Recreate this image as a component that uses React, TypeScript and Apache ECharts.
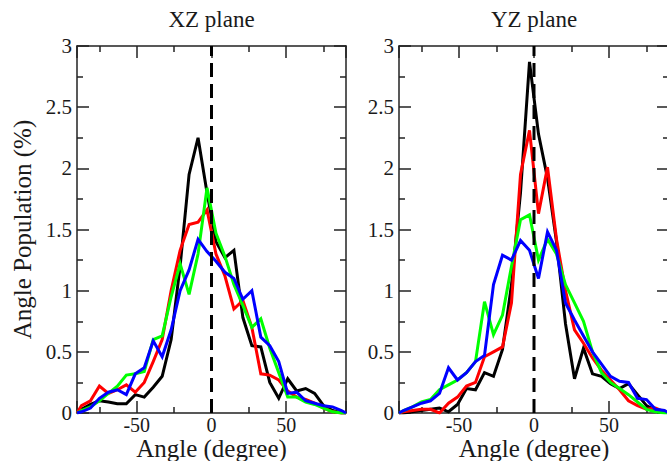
import React, { useEffect, useRef } from "react";
import * as echarts from "echarts";

// Bin centres (degrees); the curves start and end on the frame at ±90.
const ANGLES = [
  -90, -87, -81, -75, -69, -63, -57, -51, -45, -39, -33, -27, -21, -15, -9, -3,
  3, 9, 15, 21, 27, 33, 39, 45, 51, 57, 63, 69, 75, 81, 87, 90,
];

// XZ plane
const XZ_BLACK = [0, 0.03, 0.07, 0.1, 0.09, 0.075, 0.075, 0.15, 0.13, 0.21, 0.3, 0.6, 1.2, 1.95, 2.25, 1.8, 1.4, 1.27, 1.33, 0.78, 0.55, 0.54, 0.25, 0.12, 0.28, 0.18, 0.2, 0.16, 0.06, 0.02, 0, 0];
const XZ_RED = [0, 0.06, 0.1, 0.22, 0.16, 0.19, 0.23, 0.17, 0.25, 0.42, 0.6, 1.0, 1.33, 1.54, 1.56, 1.66, 1.3, 1.12, 0.85, 0.92, 0.7, 0.32, 0.31, 0.27, 0.18, 0.13, 0.11, 0.08, 0.04, 0.01, 0, 0];
const XZ_GREEN = [0, 0.02, 0.05, 0.1, 0.16, 0.22, 0.31, 0.32, 0.34, 0.6, 0.63, 0.95, 1.22, 0.97, 1.3, 1.84, 1.47, 1.28, 1.05, 0.88, 0.7, 0.77, 0.53, 0.33, 0.13, 0.13, 0.09, 0.07, 0.04, 0.01, 0, 0];
const XZ_BLUE = [0, 0.01, 0.04, 0.12, 0.17, 0.19, 0.15, 0.32, 0.37, 0.59, 0.46, 0.68, 1.0, 1.17, 1.42, 1.32, 1.24, 1.15, 1.1, 0.93, 1.0, 0.62, 0.55, 0.42, 0.16, 0.17, 0.1, 0.08, 0.06, 0.05, 0.02, 0];

// YZ plane
const YZ_BLACK = [0, 0, 0.01, 0.02, 0.03, 0.04, 0.01, 0.07, 0.2, 0.19, 0.33, 0.3, 0.52, 1.05, 1.8, 2.87, 2.28, 1.92, 1.4, 0.73, 0.28, 0.53, 0.32, 0.3, 0.24, 0.2, 0.24, 0.15, 0.06, 0.02, 0.01, 0];
const YZ_RED = [0, 0.01, 0.02, 0.03, 0.03, 0.0, 0.08, 0.13, 0.22, 0.25, 0.46, 0.5, 0.54, 0.9, 1.95, 2.31, 1.63, 2.01, 1.42, 1.0, 0.68, 0.57, 0.45, 0.35, 0.27, 0.19, 0.1, 0.06, 0.03, 0.04, 0.01, 0];
const YZ_GREEN = [0, 0.02, 0.05, 0.09, 0.11, 0.19, 0.23, 0.27, 0.33, 0.42, 0.91, 0.64, 0.8, 1.2, 1.58, 1.62, 1.25, 1.42, 1.3, 1.05, 0.9, 0.75, 0.5, 0.33, 0.25, 0.2, 0.15, 0.09, 0.03, 0.01, 0, 0];
const YZ_BLUE = [0, 0.02, 0.05, 0.08, 0.1, 0.16, 0.37, 0.27, 0.33, 0.42, 0.47, 1.05, 1.29, 1.25, 1.41, 1.33, 1.1, 1.48, 1.33, 0.9, 0.76, 0.63, 0.5, 0.4, 0.3, 0.26, 0.25, 0.12, 0.11, 0.03, 0.02, 0];

const PANEL_TITLES = ["XZ plane", "YZ plane"];
const X_NAME = "Angle (degree)";
const Y_NAME = "Angle Population (%)";
const X_RANGE = [-90, 90];
const Y_RANGE = [0, 3];
const ZERO_LINE_X = 0;

const FONT = '"Liberation Serif", "Times New Roman", Times, serif';
const AXIS_COLOR = "#222";
const TEXT_COLOR = "#1a1a1a";

const pairs = (ys: number[]) => ANGLES.map((a, i) => [a, ys[i]]);

export default function App() {
  const ref = useRef<HTMLDivElement>(null);

  useEffect(() => {
    if (!ref.current) return;
    const chart = echarts.init(ref.current, undefined, { renderer: "svg" });

    const grids = [
      { left: 77, top: 46, width: 269, height: 367, outerBoundsMode: "none", containLabel: false },
      { left: 399, top: 46, width: 270, height: 367, outerBoundsMode: "none", containLabel: false },
    ];

    const lineAxis = { show: true, onZero: false, lineStyle: { color: AXIS_COLOR, width: 1.5 } };
    const tick = { show: true, inside: true, length: 12, lineStyle: { color: AXIS_COLOR, width: 1.5 } };
    const minor = { show: true, splitNumber: 2, length: 6, lineStyle: { color: AXIS_COLOR, width: 1.5 } };

    const xAxis = (gridIndex: number, position: string, labels: boolean) => ({
      type: "value",
      gridIndex,
      position,
      min: X_RANGE[0],
      max: X_RANGE[1],
      minInterval: 50,
      maxInterval: 50,
      axisLine: lineAxis,
      axisTick: tick,
      minorTick: minor,
      splitLine: { show: false },
      minorSplitLine: { show: false },
      axisLabel: labels
        ? { show: true, margin: 4, fontFamily: FONT, fontSize: 20, lineHeight: 16, color: TEXT_COLOR, showMinLabel: false, showMaxLabel: false }
        : { show: false },
      name: labels ? X_NAME : "",
      nameLocation: "middle",
      nameGap: 25,
      nameMoveOverlap: false,
      nameTextStyle: { fontFamily: FONT, fontSize: 25, lineHeight: 20, color: TEXT_COLOR, verticalAlign: "top" },
    });

    const yAxis = (gridIndex: number, position: string, labels: boolean, name: string) => ({
      type: "value",
      gridIndex,
      position,
      min: Y_RANGE[0],
      max: Y_RANGE[1],
      interval: 0.5,
      axisLine: lineAxis,
      axisTick: tick,
      minorTick: minor,
      splitLine: { show: false },
      minorSplitLine: { show: false },
      axisLabel: labels
        ? { show: true, margin: 5, fontFamily: FONT, fontSize: 21, lineHeight: 16, color: TEXT_COLOR }
        : { show: false },
      name,
      nameLocation: "middle",
      nameGap: 44,
      nameMoveOverlap: false,
      nameTextStyle: { fontFamily: FONT, fontSize: 25, lineHeight: 22, color: TEXT_COLOR },
    });

    const mk = (data: number[], color: string, g: number) => ({
      type: "line",
      xAxisIndex: g * 2,
      yAxisIndex: g * 2,
      data: pairs(data),
      symbol: "none",
      showSymbol: false,
      lineStyle: { color, width: 3, join: "miter" },
      itemStyle: { color },
      silent: true,
    });

    const zero = (g: number) => ({
      type: "line",
      xAxisIndex: g * 2,
      yAxisIndex: g * 2,
      data: [
        [ZERO_LINE_X, Y_RANGE[0]],
        [ZERO_LINE_X, Y_RANGE[1]],
      ],
      symbol: "none",
      showSymbol: false,
      lineStyle: { color: "#000", width: 3, type: [14, 7] },
      itemStyle: { color: "#000" },
      silent: true,
      z: 5,
    });

    chart.setOption({
      animation: false,
      backgroundColor: "#fff",
      grid: grids,
      xAxis: [xAxis(0, "bottom", true), xAxis(0, "top", false), xAxis(1, "bottom", true), xAxis(1, "top", false)],
      yAxis: [yAxis(0, "left", true, Y_NAME), yAxis(0, "right", false, ""), yAxis(1, "left", true, ""), yAxis(1, "right", false, "")],
      graphic: PANEL_TITLES.map((t, i) => ({
        type: "text",
        x: i === 0 ? 211.5 : 534,
        y: 19,
        style: { text: t, align: "center", verticalAlign: "middle", fontFamily: FONT, fontSize: 23, fill: TEXT_COLOR },
      })),
      series: [
        mk(XZ_BLACK, "#000000", 0),
        mk(XZ_RED, "#ff0000", 0),
        mk(XZ_GREEN, "#00ff00", 0),
        mk(XZ_BLUE, "#0000ff", 0),
        zero(0),
        mk(YZ_BLACK, "#000000", 1),
        mk(YZ_RED, "#ff0000", 1),
        mk(YZ_GREEN, "#00ff00", 1),
        mk(YZ_BLUE, "#0000ff", 1),
        zero(1),
      ],
    });

    return () => chart.dispose();
  }, []);

  return (
    <div
      ref={ref}
      style={{ position: "fixed", left: 0, top: 0, width: 667, height: 461, background: "#fff" }}
    />
  );
}
